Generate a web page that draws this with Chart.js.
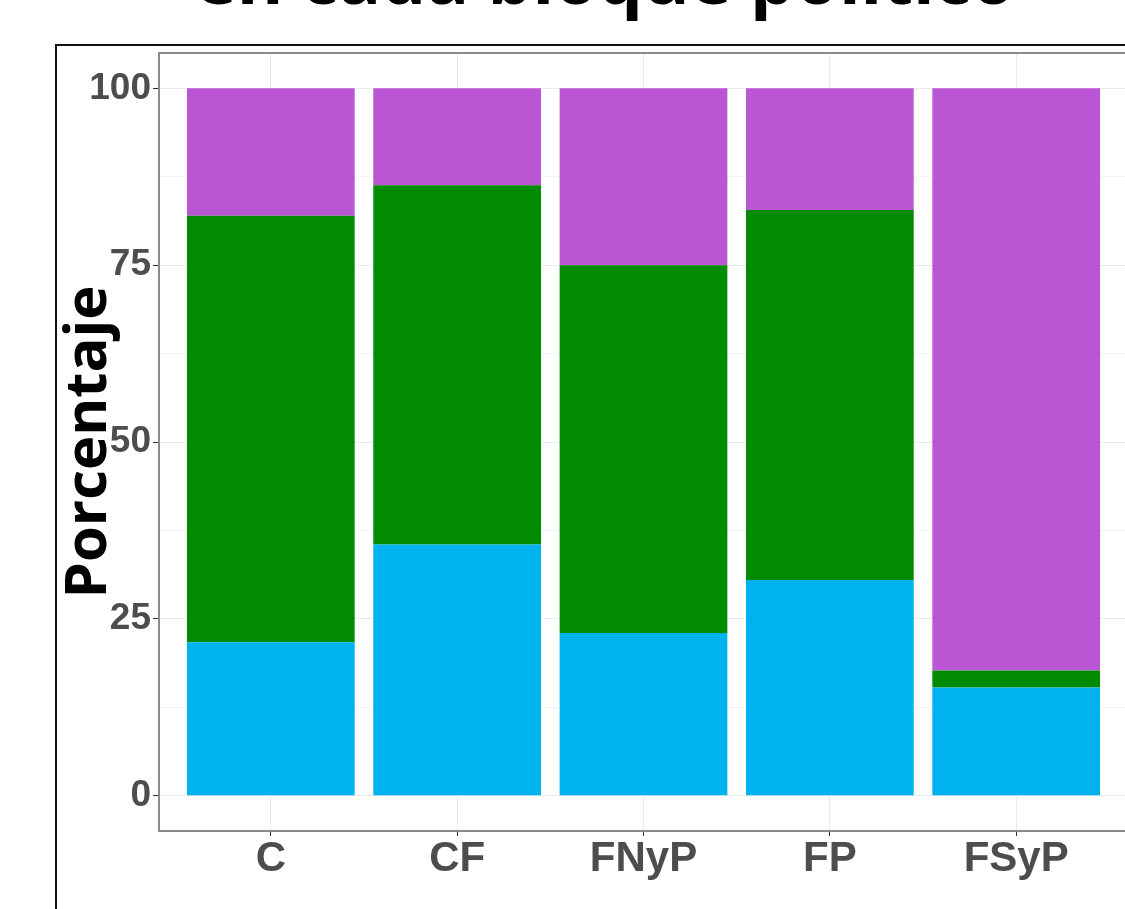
<!DOCTYPE html>
<html>
<head>
<meta charset="utf-8">
<script src="https://cdn.jsdelivr.net/npm/chart.js@4"></script>
<style>
  html, body { margin: 0; padding: 0; background: #fff; overflow: hidden; }
  #wrap { position: relative; width: 1125px; height: 909px; overflow: hidden; }
  #titulo {
    position: absolute; left: 0; width: 1210px; top: -58px;
    text-align: center; font-family: "Open Sans", sans-serif; font-weight: 700;
    font-size: 71px; line-height: 70px; color: #000; white-space: nowrap;
  }
  canvas { position: absolute; left: 0; top: 0; }
</style>
</head>
<body>
<div id="wrap">
  <canvas id="grafico" width="1140" height="909"></canvas>
  <div id="titulo">en cada bloque político</div>
</div>
<script>
// datos (porcentajes por bloque)
const bloques = ["C", "CF", "FNyP", "FP", "FSyP"];
const celeste = [21.7, 35.5, 23.0, 30.5, 15.3];
const verde = [60.3, 50.8, 52.0, 52.3, 2.4];
const violeta = [18.0, 13.7, 25.0, 17.2, 82.3];
const ticksY = [0, 12.5, 25, 37.5, 50, 62.5, 75, 87.5, 100];

const aPuntos = (arr) => arr.map((v, i) => ({ x: i, y: v }));

// marco negro exterior y borde del panel
const marco = {
  id: "marco",
  beforeDraw(chart) {
    const ctx = chart.ctx;
    ctx.save();
    ctx.strokeStyle = "#111";
    ctx.lineWidth = 2;
    ctx.strokeRect(56, 45, 1200, 1000);
    ctx.restore();
  },
  afterDatasetsDraw(chart) {
    const a = chart.chartArea;
    const ctx = chart.ctx;
    ctx.save();
    ctx.strokeStyle = "#8a8a8a";
    ctx.lineWidth = 2;
    ctx.strokeRect(a.left, a.top, a.right - a.left, a.bottom - a.top);
    ctx.restore();
  },
};

new Chart(document.getElementById("grafico"), {
  type: "bar",
  data: {
    datasets: [
      { label: "celeste", data: aPuntos(celeste), backgroundColor: "#00B2EE" },
      { label: "verde", data: aPuntos(verde), backgroundColor: "#008B00" },
      { label: "violeta", data: aPuntos(violeta), backgroundColor: "#BA55D3" },
    ],
  },
  options: {
    responsive: false,
    animation: false,
    devicePixelRatio: 1,
    categoryPercentage: 1,
    barPercentage: 0.9,
    borderWidth: 0,
    layout: { padding: { left: 0, right: 12, top: 53, bottom: 0 } },
    plugins: { legend: { display: false }, tooltip: { enabled: false } },
    scales: {
      x: {
        type: "linear",
        stacked: true,
        offset: false,
        min: -0.6,
        max: 4.6,
        afterBuildTicks: (s) => { s.ticks = bloques.map((_, i) => ({ value: i })); },
        afterFit: (s) => { s.height = 78; },
        grid: { offset: false, color: "#EBEBEB", lineWidth: 1, tickLength: 5, tickColor: "#333" },
        border: { display: false },
        ticks: {
          callback: (v) => bloques[v],
          color: "#4D4D4D",
          padding: -2,
          maxRotation: 0,
          autoSkip: false,
          font: { family: "Liberation Sans", size: 42, weight: "bold" },
        },
      },
      y: {
        stacked: true,
        min: -5,
        max: 105,
        afterBuildTicks: (s) => { s.ticks = ticksY.map((v) => ({ value: v })); },
        afterFit: (s) => { s.width = 159; },
        grid: {
          color: (c) => (c.tick && c.tick.value % 25 === 0 ? "#EBEBEB" : "#F4F4F4"),
          lineWidth: 1,
          tickLength: 6,
          tickColor: (c) => (c.tick && c.tick.value % 25 === 0 ? "#333" : "rgba(0,0,0,0)"),
        },
        border: { display: false },
        ticks: {
          callback: (v) => (v % 25 === 0 ? v : ""),
          color: "#4D4D4D",
          padding: 2,
          autoSkip: false,
          font: { family: "Liberation Sans", size: 37, weight: "bold" },
        },
        title: {
          display: true,
          text: "Porcentaje",
          color: "#000",
          padding: { top: 55, bottom: 0 },
          font: { family: "Open Sans", size: 58, weight: "bold" },
        },
      },
    },
  },
  plugins: [marco],
});
</script>
</body>
</html>
